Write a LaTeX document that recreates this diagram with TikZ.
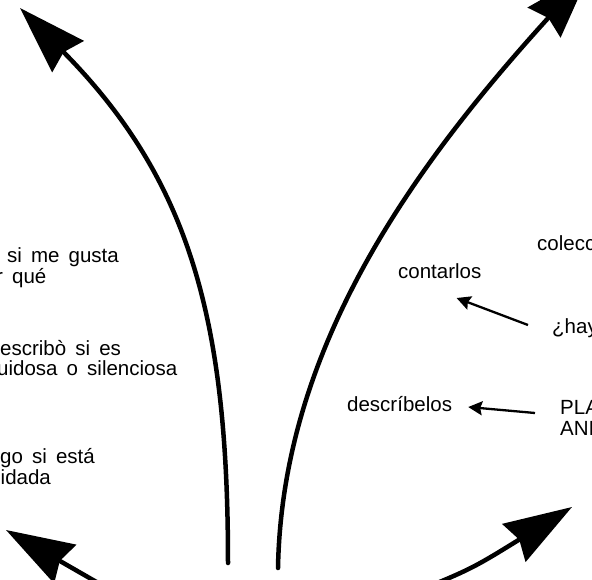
\documentclass[tikz,border=0pt]{standalone}
\usepackage{fontspec}
\setmainfont{Liberation Sans}[WordSpace=1.6]
\usetikzlibrary{arrows.meta,positioning}

\begin{document}
\begin{tikzpicture}[x=1pt,y=-1pt,
  txt/.style={anchor=base west,inner sep=0pt,font=\fontsize{20.5}{22}\selectfont},
  bigarr/.style={-{Stealth[length=68pt,width=44pt,inset=6pt]},line width=4.5pt,line cap=round},
  arr/.style={-{Stealth[length=14pt,width=14pt,inset=2pt]},line width=2.3pt}]
  \useasboundingbox (0,0) rectangle (592,579);
  \clip (0,0) rectangle (592,579);
  % left column
  \node[txt] (gusta) at (7,262) {si me gusta};
  \node[txt] (porque) at (-4,283) {r qué};
  \node[txt] (escribo) at (0,355) {escribò si es};
  \node[txt] (ruidosa) at (-3,375) {uidosa o silenciosa};
  \node[txt] (esta) at (0,463) {go si está};
  \node[txt] (cuidada) at (0.5,484) {idada};
  % right column
  \node[txt] (colec) at (537,250) {colecc};
  \node[txt] (contar) at (398,278) {contarlos};
  \node[txt] (hay) at (552,333) {¿hay};
  \node[txt] (descr) at (347,411) {descríbelos};
  \node[txt] (pla) at (560,414) {PLA};
  \node[txt] (ani) at (560,435) {ANI};
  \draw[arr] ([shift={(-24,-8)}]hay.base west) -- ([shift={(-25,20)}]contar.base east);
  \draw[arr] ([shift={(-25,-1)}]pla.base west) -- ([shift={(16,-4)}]descr.base east);
  % big arrows, ends run out of the frame
  \coordinate (rootL) at (228,563);
  \coordinate (rootR) at (278,568);
  \coordinate (tipUL) at (20,8);
  \coordinate (tipUR) at (590,-28);
  \coordinate (tailBL) at (140,607);
  \coordinate (tipBL) at (6,530);
  \coordinate (tailBR) at (395,600);
  \coordinate (tipBR) at (572,507);
  \draw[bigarr] (rootL) .. controls (228,320) and (190,180) .. (tipUL);
  \draw[bigarr] (rootR) .. controls (282,350) and (410,170) .. (tipUR);
  \draw[bigarr] (tailBL) -- (tipBL);
  \draw[bigarr] (tailBR) .. controls (470,570) .. (tipBR);
\end{tikzpicture}
\end{document}
